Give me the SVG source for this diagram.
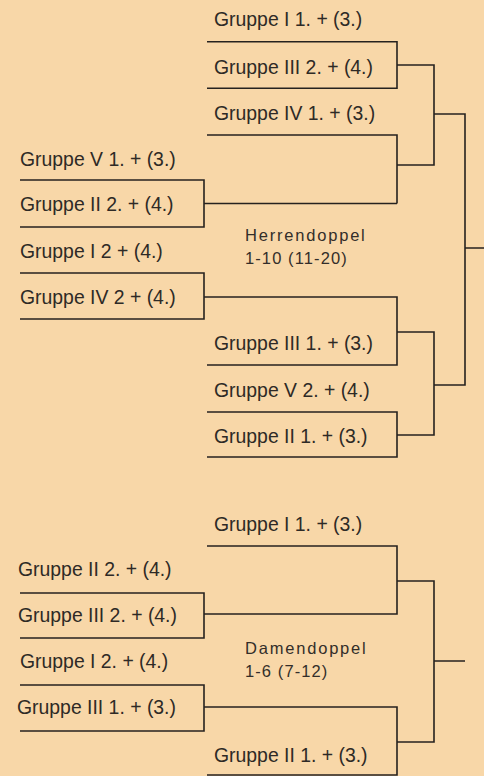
<svg xmlns="http://www.w3.org/2000/svg" width="484" height="776" viewBox="0 0 484 776">
<style>
.t{font-family:"Liberation Sans",Arial,sans-serif;font-size:19.4px;fill:#2e2a26}
.h{font-family:"Liberation Sans",Arial,sans-serif;font-size:16.5px;fill:#332e2a;letter-spacing:1.8px}
.n{letter-spacing:1.1px}
.c{fill:none;stroke:#26221f;stroke-width:1.6}
</style>
<rect width="484" height="776" fill="#f8d7a8"/>
<g id="connectors" class="c">
<path d="M207 41.7H397V88.3H207M207 135H397V203.5M20 180H204V227H20M204 203.5H397M20 273H204V319H20M204 297H397V365H207M207 412H397V457H207M397 65H434V165H397M397 332H434V435H397M434 114H465V385H434M465 248H484"/>
<path d="M207 546H397V614H204M20 593H204V638H20M20 685H204V731H20M204 707H397V775H207M397 581H434V742H397M434 661H465"/>
</g>
<g id="h1"><text class="t" x="214" y="26">Gruppe I 1. + (3.)</text></g>
<g id="h2"><text class="t" x="214" y="74">Gruppe III 2. + (4.)</text></g>
<g id="h3"><text class="t" x="214" y="120">Gruppe IV 1. + (3.)</text></g>
<g id="h4"><text class="t" x="20" y="166">Gruppe V 1. + (3.)</text></g>
<g id="h5"><text class="t" x="20" y="211">Gruppe II 2. + (4.)</text></g>
<g id="h6"><text class="t" x="20" y="258">Gruppe I 2 + (4.)</text></g>
<g id="h7"><text class="t" x="20" y="304">Gruppe IV 2 + (4.)</text></g>
<g id="h8"><text class="t" x="214" y="350">Gruppe III 1. + (3.)</text></g>
<g id="h9"><text class="t" x="214" y="397">Gruppe V 2. + (4.)</text></g>
<g id="h10"><text class="t" x="214" y="443">Gruppe II 1. + (3.)</text></g>
<g id="herren"><text class="h" x="245" y="241">Herrendoppel</text><text class="h n" x="245" y="264">1-10 (11-20)</text></g>
<g id="d1"><text class="t" x="214" y="531">Gruppe I 1. + (3.)</text></g>
<g id="d2"><text class="t" x="18" y="576">Gruppe II 2. + (4.)</text></g>
<g id="d3"><text class="t" x="18" y="622">Gruppe III 2. + (4.)</text></g>
<g id="d4"><text class="t" x="20" y="668">Gruppe I 2. + (4.)</text></g>
<g id="d5"><text class="t" x="17" y="714">Gruppe III 1. + (3.)</text></g>
<g id="d6"><text class="t" x="214" y="762">Gruppe II 1. + (3.)</text></g>
<g id="damen"><text class="h" x="245" y="654">Damendoppel</text><text class="h n" x="245" y="677">1-6 (7-12)</text></g>
</svg>
